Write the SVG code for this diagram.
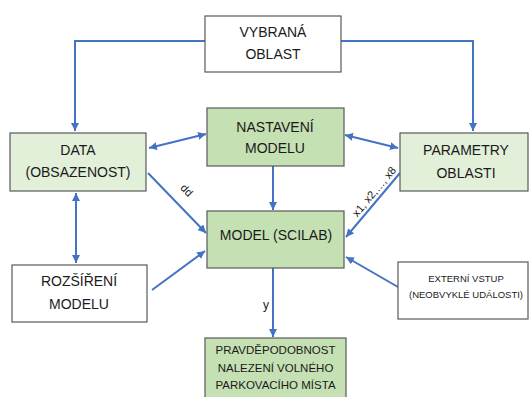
<svg xmlns="http://www.w3.org/2000/svg" width="530" height="397" viewBox="0 0 530 397">
  <defs>
    <marker id="arrow" viewBox="0 0 10 10" refX="10" refY="5" markerWidth="8" markerHeight="8" markerUnits="userSpaceOnUse" orient="auto-start-reverse">
      <path d="M0,0 L10,5 L0,10 z" fill="#4472c4"/>
    </marker>
  </defs>
  <style>
    .box { stroke: #595959; stroke-width: 1.2; }
    .white { fill: #ffffff; }
    .light { fill: #e2efd9; }
    .mid { fill: #c5e0b3; }
    .lbl { font-family: "Liberation Sans", Arial, sans-serif; font-size: 14px; fill: #1a1a1a; text-anchor: middle; }
    .small { font-size: 9.5px; }
    .med { font-size: 11.5px; }
    .conn { fill: none; stroke: #4472c4; stroke-width: 2; }
    .clabel { font-family: "Liberation Sans", Arial, sans-serif; font-size: 11px; fill: #1a1a1a; text-anchor: middle; }
  </style>
  <rect width="530" height="397" fill="#ffffff"/>

  <g id="connectors">
    <polyline class="conn" points="205,41 75,41 75,131" marker-end="url(#arrow)"/>
    <polyline class="conn" points="341,41 473,41 473,131" marker-end="url(#arrow)"/>
    <line class="conn" x1="149" y1="148" x2="206" y2="134" marker-start="url(#arrow)" marker-end="url(#arrow)"/>
    <line class="conn" x1="345" y1="135" x2="398" y2="148" marker-start="url(#arrow)" marker-end="url(#arrow)"/>
    <line class="conn" x1="273" y1="166" x2="273" y2="210" marker-end="url(#arrow)"/>
    <line class="conn" x1="148" y1="173" x2="206" y2="233" marker-end="url(#arrow)"/>
    <text class="clabel" transform="translate(184,193) rotate(46)">dd</text>
    <line class="conn" x1="400" y1="173" x2="346" y2="237" marker-end="url(#arrow)"/>
    <text class="clabel" transform="translate(377,194) rotate(-50)">x1, x2,…, x8</text>
    <line class="conn" x1="76" y1="193" x2="76" y2="263" marker-start="url(#arrow)" marker-end="url(#arrow)"/>
    <line class="conn" x1="152" y1="290" x2="205" y2="251" marker-end="url(#arrow)"/>
    <line class="conn" x1="398" y1="287" x2="346" y2="257" marker-end="url(#arrow)"/>
    <line class="conn" x1="273" y1="268" x2="273" y2="337" marker-end="url(#arrow)"/>
    <text class="clabel" x="266" y="309" style="font-size:12px">y</text>
  </g>

  <g id="vybrana-oblast">
    <rect class="box white" x="205" y="16" width="136" height="56"/>
    <text class="lbl" x="273" y="37">VYBRANÁ</text>
    <text class="lbl" x="273" y="59">OBLAST</text>
  </g>

  <g id="data">
    <rect class="box light" x="10" y="133" width="136" height="58"/>
    <text class="lbl" x="78" y="155">DATA</text>
    <text class="lbl" x="78" y="177">(OBSAZENOST)</text>
  </g>

  <g id="nastaveni-modelu">
    <rect class="box mid" x="207" y="108" width="137" height="58"/>
    <text class="lbl" x="275" y="132">NASTAVENÍ</text>
    <text class="lbl" x="275" y="153">MODELU</text>
  </g>

  <g id="parametry-oblasti">
    <rect class="box light" x="400" y="133" width="128" height="58"/>
    <text class="lbl" x="466" y="155">PARAMETRY</text>
    <text class="lbl" x="466" y="178">OBLASTI</text>
  </g>

  <g id="model-scilab">
    <rect class="box mid" x="207" y="211" width="137" height="57"/>
    <text class="lbl" x="276" y="240">MODEL (SCILAB)</text>
  </g>

  <g id="rozsireni-modelu">
    <rect class="box white" x="12" y="265" width="135" height="57"/>
    <text class="lbl" x="79" y="286">ROZŠÍŘENÍ</text>
    <text class="lbl" x="79" y="309">MODELU</text>
  </g>

  <g id="externi-vstup">
    <rect class="box white" x="398" y="262" width="130" height="57"/>
    <text class="lbl small" x="466" y="282">EXTERNÍ VSTUP</text>
    <text class="lbl small" x="466" y="298">(NEOBVYKLÉ UDÁLOSTI)</text>
  </g>

  <g id="pravdepodobnost">
    <rect class="box mid" x="205" y="338" width="141" height="64"/>
    <text class="lbl med" x="275.5" y="354">PRAVDĚPODOBNOST</text>
    <text class="lbl med" x="275.5" y="372">NALEZENÍ VOLNÉHO</text>
    <text class="lbl med" x="275.5" y="389">PARKOVACÍHO MÍSTA</text>
  </g>
</svg>
